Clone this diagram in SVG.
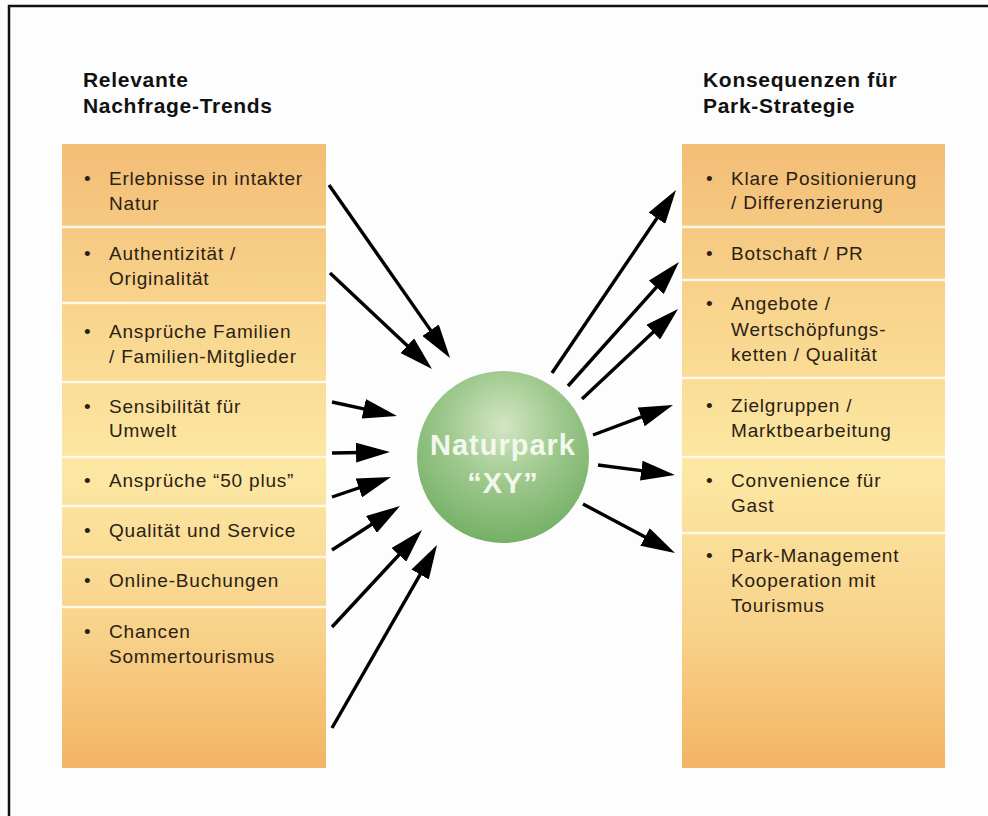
<svg xmlns="http://www.w3.org/2000/svg" width="988" height="816" viewBox="0 0 988 816">
  <defs>
    <linearGradient id="colFill" x1="0" y1="0" x2="0" y2="1">
      <stop offset="0" stop-color="#f3bd76"/>
      <stop offset="0.25" stop-color="#f8d38b"/>
      <stop offset="0.52" stop-color="#fce8a3"/>
      <stop offset="0.78" stop-color="#f8d28a"/>
      <stop offset="1" stop-color="#f3b465"/>
    </linearGradient>
    <radialGradient id="sphere" cx="0.5" cy="0.32" r="0.72">
      <stop offset="0" stop-color="#d3e6c4"/>
      <stop offset="0.45" stop-color="#9fc98e"/>
      <stop offset="1" stop-color="#70ad61"/>
    </radialGradient>
    <marker id="head" markerUnits="userSpaceOnUse" viewBox="0 0 34 20" markerWidth="34" markerHeight="20" refX="6" refY="10" orient="auto">
      <path d="M0,0 L34,10 L0,20 Z" fill="#000"/>
    </marker>
    <style>
      .head { font-family: "Liberation Sans", Arial, sans-serif; font-weight: bold; font-size: 21px; letter-spacing: 0.7px; fill: #111; }
      .item { font-family: "Liberation Sans", Arial, sans-serif; font-size: 19px; letter-spacing: 0.8px; fill: #2b2115; }
      .sep { stroke: #fff8ea; stroke-width: 2.5; }
      .arrow { stroke: #000; stroke-width: 3.4; fill: none; marker-end: url(#head); }
      .core { font-family: "Liberation Sans", Arial, sans-serif; font-weight: bold; font-size: 29px; letter-spacing: 1px; fill: #f2f8ec; text-anchor: middle; }
    </style>
  </defs>

  <!-- page and frame -->
  <rect x="0" y="0" width="988" height="816" fill="#fdfdfd"/>
  <rect x="9" y="6" width="1000" height="830" fill="none" stroke="#111" stroke-width="2.5"/>

  <!-- column headings -->
  <g id="heading-trends">
    <text class="head" x="83" y="87">Relevante</text>
    <text class="head" x="83" y="113">Nachfrage-Trends</text>
  </g>
  <g id="heading-strategy">
    <text class="head" x="703" y="87">Konsequenzen für</text>
    <text class="head" x="703" y="113">Park-Strategie</text>
  </g>

  <!-- left column: demand trends -->
  <g id="trends">
    <rect x="62" y="144" width="264" height="624" fill="url(#colFill)"/>
    <line class="sep" x1="62" y1="227" x2="326" y2="227"/>
    <line class="sep" x1="62" y1="303" x2="326" y2="303"/>
    <line class="sep" x1="62" y1="382" x2="326" y2="382"/>
    <line class="sep" x1="62" y1="457" x2="326" y2="457"/>
    <line class="sep" x1="62" y1="506" x2="326" y2="506"/>
    <line class="sep" x1="62" y1="557" x2="326" y2="557"/>
    <line class="sep" x1="62" y1="607" x2="326" y2="607"/>
    <g id="trend-1">
      <text class="item" x="84" y="185">•</text>
      <text class="item" x="109" y="185">Erlebnisse in intakter</text>
      <text class="item" x="109" y="210">Natur</text>
    </g>
    <g id="trend-2">
      <text class="item" x="84" y="260">•</text>
      <text class="item" x="109" y="260">Authentizität /</text>
      <text class="item" x="109" y="285">Originalität</text>
    </g>
    <g id="trend-3">
      <text class="item" x="84" y="338">•</text>
      <text class="item" x="109" y="338">Ansprüche Familien</text>
      <text class="item" x="109" y="363">/ Familien-Mitglieder</text>
    </g>
    <g id="trend-4">
      <text class="item" x="84" y="413">•</text>
      <text class="item" x="109" y="413">Sensibilität für</text>
      <text class="item" x="109" y="437">Umwelt</text>
    </g>
    <g id="trend-5">
      <text class="item" x="84" y="487">•</text>
      <text class="item" x="109" y="487">Ansprüche “50 plus”</text>
    </g>
    <g id="trend-6">
      <text class="item" x="84" y="537">•</text>
      <text class="item" x="109" y="537">Qualität und Service</text>
    </g>
    <g id="trend-7">
      <text class="item" x="84" y="587">•</text>
      <text class="item" x="109" y="587">Online-Buchungen</text>
    </g>
    <g id="trend-8">
      <text class="item" x="84" y="638">•</text>
      <text class="item" x="109" y="638">Chancen</text>
      <text class="item" x="109" y="663">Sommertourismus</text>
    </g>
  </g>

  <!-- right column: strategy consequences -->
  <g id="strategy">
    <rect x="682" y="144" width="263" height="624" fill="url(#colFill)"/>
    <line class="sep" x1="682" y1="227" x2="945" y2="227"/>
    <line class="sep" x1="682" y1="280" x2="945" y2="280"/>
    <line class="sep" x1="682" y1="378" x2="945" y2="378"/>
    <line class="sep" x1="682" y1="457" x2="945" y2="457"/>
    <line class="sep" x1="682" y1="533" x2="945" y2="533"/>
    <g id="strategy-1">
      <text class="item" x="706" y="185">•</text>
      <text class="item" x="731" y="185">Klare Positionierung</text>
      <text class="item" x="731" y="209">/ Differenzierung</text>
    </g>
    <g id="strategy-2">
      <text class="item" x="706" y="260">•</text>
      <text class="item" x="731" y="260">Botschaft / PR</text>
    </g>
    <g id="strategy-3">
      <text class="item" x="706" y="310">•</text>
      <text class="item" x="731" y="310">Angebote /</text>
      <text class="item" x="731" y="336">Wertschöpfungs-</text>
      <text class="item" x="731" y="361">ketten / Qualität</text>
    </g>
    <g id="strategy-4">
      <text class="item" x="706" y="412">•</text>
      <text class="item" x="731" y="412">Zielgruppen /</text>
      <text class="item" x="731" y="437">Marktbearbeitung</text>
    </g>
    <g id="strategy-5">
      <text class="item" x="706" y="487">•</text>
      <text class="item" x="731" y="487">Convenience für</text>
      <text class="item" x="731" y="512">Gast</text>
    </g>
    <g id="strategy-6">
      <text class="item" x="706" y="562">•</text>
      <text class="item" x="731" y="562">Park-Management</text>
      <text class="item" x="731" y="587">Kooperation mit</text>
      <text class="item" x="731" y="612">Tourismus</text>
    </g>
  </g>

  <!-- central park node -->
  <g id="naturpark">
    <circle cx="503" cy="457" r="86" fill="url(#sphere)"/>
    <text class="core" x="503" y="455">Naturpark</text>
    <text class="core" x="503" y="493">“XY”</text>
  </g>

  <!-- connectors: trends into the park, park out to strategy -->
  <g id="connectors">
    <line class="arrow" x1="329" y1="185" x2="434.0" y2="335.1"/>
    <line class="arrow" x1="330" y1="273" x2="411.6" y2="349.8"/>
    <line class="arrow" x1="332" y1="402" x2="369.6" y2="410.1"/>
    <line class="arrow" x1="332" y1="453" x2="362.0" y2="452.5"/>
    <line class="arrow" x1="332" y1="497" x2="364.5" y2="486.0"/>
    <line class="arrow" x1="332" y1="550" x2="376.5" y2="521.2"/>
    <line class="arrow" x1="332" y1="627" x2="403.0" y2="550.5"/>
    <line class="arrow" x1="332" y1="728" x2="423.1" y2="569.3"/>
    <line class="arrow" x1="552" y1="373" x2="660.3" y2="213.2"/>
    <line class="arrow" x1="568" y1="386" x2="660.3" y2="282.9"/>
    <line class="arrow" x1="582" y1="399" x2="657.6" y2="328.1"/>
    <line class="arrow" x1="593" y1="435" x2="646.8" y2="414.8"/>
    <line class="arrow" x1="598" y1="465" x2="647.2" y2="471.4"/>
    <line class="arrow" x1="583" y1="504" x2="650.3" y2="539.8"/>
  </g>
</svg>
